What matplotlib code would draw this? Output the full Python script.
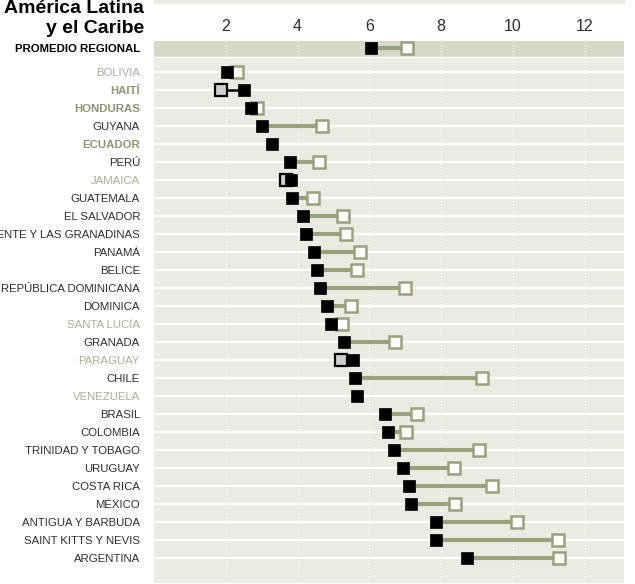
import numpy as np
import matplotlib
matplotlib.use('Agg')
import matplotlib.pyplot as plt
from matplotlib import font_manager
from matplotlib.patches import Rectangle

# data
countries = ['BOLIVIA', 'HAITÍ', 'HONDURAS', 'GUYANA', 'ECUADOR', 'PERÚ', 'JAMAICA',
             'GUATEMALA', 'EL SALVADOR', 'SAN VICENTE Y LAS GRANADINAS', 'PANAMÁ', 'BELICE',
             'REPÚBLICA DOMINICANA', 'DOMINICA', 'SANTA LUCÍA', 'GRANADA', 'PARAGUAY', 'CHILE',
             'VENEZUELA', 'BRASIL', 'COLOMBIA', 'TRINIDAD Y TOBAGO', 'URUGUAY', 'COSTA RICA',
             'MÉXICO', 'ANTIGUA Y BARBUDA', 'SAINT KITTS Y NEVIS', 'ARGENTINA']
v1 = [2.03, 2.52, 2.70, 3.00, 3.29, 3.79, 3.82, 3.86, 4.14, 4.24, 4.47, 4.54, 4.64, 4.81,
      4.92, 5.30, 5.56, 5.60, 5.67, 6.45, 6.53, 6.69, 6.94, 7.12, 7.17, 7.85, 7.85, 8.72]
v2 = [2.31, 1.86, 2.86, 4.67, np.nan, 4.59, 3.69, 4.42, 5.28, 5.35, 5.73, 5.67, 7.00, 5.50,
      5.25, 6.72, 5.20, 9.15, np.nan, 7.33, 7.01, 9.07, 8.37, 9.43, 8.40, 10.13, 11.26, 11.28]
# n = normal, l = light, b = bold olive
label_style = ['l', 'b', 'b', 'n', 'b', 'n', 'l', 'n', 'n', 'n', 'n', 'n', 'n', 'n',
               'l', 'n', 'l', 'n', 'l', 'n', 'n', 'n', 'n', 'n', 'n', 'n', 'n', 'n']
avg_label = 'PROMEDIO REGIONAL'
avg1, avg2 = 6.06, 7.06
xticks = [2, 4, 6, 8, 10, 12]

names = {f.name for f in font_manager.fontManager.ttflist}
if 'Liberation Sans Narrow' in names:
    fam, fs = 'Liberation Sans Narrow', 9.7
else:
    fam, fs = 'Liberation Sans', 8.2
plt.rcParams['font.family'] = [fam, 'DejaVu Sans']

bg = '#ebebe3'
band = '#d8d8c9'
olive = '#98a27c'
dark = '#2e2e2e'
light = '#a9b097'
boldc = '#8c9872'

fig = plt.figure(figsize=(6.35, 5.84), dpi=100)
ax = fig.add_axes([154/635, 1.3/584, 470/635, (582.7-41)/584])
ax.set_facecolor(bg)

# strip of the panel above
fig.patches.append(Rectangle((154/635, 1-3/584), 470/635, 3/584,
                             transform=fig.transFigure, color=bg, zorder=0))

ymin, ymax = 28.37, -1.72
ax.set_xlim(0, 13.1)
ax.set_ylim(ymin, ymax)
ax.axhspan(ymax, -0.833, color=band, zorder=0.5, lw=0)
avg_y = -1.333

y = np.arange(len(countries))
for yy in y:
    ax.axhline(yy, color='white', lw=1.6, zorder=1)
ax.axhline(-0.833, color='white', lw=1.0, zorder=1)
for xt in xticks:
    ax.axvline(xt, color='white', lw=0.9, ls=(0, (1, 1.5)), zorder=1.2)

def draw_row(yy, a, b):
    if not np.isnan(b):
        if b >= a:
            ax.plot([a, b], [yy, yy], color=olive, lw=3, zorder=2, solid_capstyle='butt')
            ax.plot(b, yy, 's', ms=8.2, mfc='white', mec=olive, mew=1.8, zorder=3)
        else:
            ax.plot([a, b], [yy, yy], color='black', lw=1.8, zorder=2, solid_capstyle='butt')
            ax.plot(b, yy, 's', ms=8.2, mfc='#cfcfcb', mec='black', mew=1.6, zorder=3)
    ax.plot(a, yy, 's', ms=8.5, mfc='black', mec='black', mew=0.5, zorder=4)

draw_row(avg_y, avg1, avg2)
for yy, a, b in zip(y, v1, v2):
    draw_row(yy, a, b)

ax.set_yticks(list(y) + [avg_y])
ax.set_yticklabels(countries + [avg_label], fontsize=fs)
for lab, st in zip(ax.get_yticklabels(), label_style + ['avg']):
    if st == 'l':
        lab.set_color(light)
    elif st == 'b':
        lab.set_color(boldc)
        lab.set_fontweight('bold')
    elif st == 'avg':
        lab.set_color('black')
        lab.set_fontweight('bold')
    else:
        lab.set_color(dark)

ax.set_xticks(xticks)
ax.xaxis.tick_top()
ax.tick_params(axis='x', length=0, pad=5, labelsize=11.5, labelcolor=dark)
ax.tick_params(axis='y', length=0, pad=10)
for s in ax.spines.values():
    s.set_visible(False)

fig.text(144/635, 1-13/584, 'América Latina', ha='right', va='baseline',
         fontsize=14, fontweight='bold', color='black')
fig.text(144/635, 1-33/584, 'y el Caribe', ha='right', va='baseline',
         fontsize=14, fontweight='bold', color='black')

fig.savefig('out.png', dpi=100, facecolor='white')
